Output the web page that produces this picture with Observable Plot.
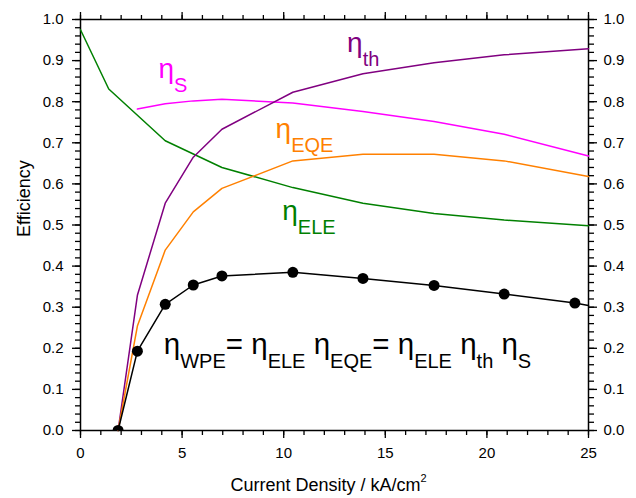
<!DOCTYPE html>
<html><head><meta charset="utf-8">
<script src="https://cdn.jsdelivr.net/npm/d3@7"></script>
<script src="https://cdn.jsdelivr.net/npm/@observablehq/plot@0.6"></script>
<style>
body{margin:0;background:#fff;}
svg{font-family:"Liberation Sans",Arial,sans-serif;}
</style></head><body><div id="chart"></div>
<script>
// Current density (kA/cm^2) at measured points
const measJ = [1.85, 2.8, 4.17, 5.55, 6.96, 10.45, 13.9, 17.4, 20.85, 24.33];
const wpe   = [0, 0.193, 0.307, 0.354, 0.376, 0.385, 0.370, 0.353, 0.332, 0.310];
// WPE line continues to the frame edge
const wpeLineJ = [1.85, 2.8, 4.17, 5.55, 6.96, 10.45, 13.9, 17.4, 20.85, 24.33, 25];
const wpeLine  = [0, 0.193, 0.307, 0.354, 0.376, 0.385, 0.370, 0.353, 0.332, 0.310, 0.304];

const thJ = [1.85, 2.8, 4.17, 5.55, 6.96, 10.45, 13.9, 17.4, 20.85, 25];
const th  = [0, 0.329, 0.553, 0.665, 0.733, 0.823, 0.868, 0.895, 0.914, 0.929];

const eqeJ = [1.85, 2.8, 4.17, 5.55, 6.96, 10.45, 13.9, 17.4, 20.85, 25];
const eqe  = [0, 0.254, 0.439, 0.532, 0.589, 0.656, 0.672, 0.672, 0.656, 0.618];

const sJ = [2.8, 4.17, 5.55, 6.96, 10.45, 13.9, 17.4, 20.85, 25];
const s  = [0.782, 0.795, 0.802, 0.806, 0.797, 0.776, 0.752, 0.721, 0.668];

const eleJ = [0, 1.39, 4.17, 6.96, 10.45, 13.9, 17.4, 20.85, 25];
const ele  = [0.975, 0.831, 0.705, 0.640, 0.591, 0.553, 0.528, 0.512, 0.498];

const xTicks = [0, 5, 10, 15, 20, 25];
const yTicks = [0, 0.1, 0.2, 0.3, 0.4, 0.5, 0.6, 0.7, 0.8, 0.9, 1.0];
const xMinor = d3.range(0, 26, 1);
const yMinor = d3.range(0, 51).map(i => i / 50);

const xTitle = [["Current Density / kA/cm", ""], ["2", "sup"]];
const yTitle = "Efficiency";

const labels = [
  {key: "L_S",   x: 3.84,  y: 0.857, color: "#ff00ff", parts: [["η", ""], ["S", "sub"]]},
  {key: "L_th",  x: 13.12, y: 0.921, color: "#800080", parts: [["η", ""], ["th", "sub"]]},
  {key: "L_EQE", x: 9.6,   y: 0.711, color: "#ff8000", parts: [["η", ""], ["EQE", "sub"]]},
  {key: "L_ELE", x: 9.93,  y: 0.513, color: "#008000", parts: [["η", ""], ["ELE", "sub"]]}
];
const formula = [
  {key: "L_F", x: 4.1, y: 0.185, parts: [
    ["η", ""], ["WPE", "sub"], ["= η", ""], ["ELE", "sub"], [" η", ""], ["EQE", "sub"],
    ["= η", ""], ["ELE", "sub"], [" η", ""], ["th", "sub"], [" η", ""], ["S", "sub"]]}
];

const rows = (J, V) => J.map((x, i) => ({x, y: V[i]}));

const plot = Plot.plot({
  width: 636, height: 498,
  marginLeft: 80, marginRight: 48, marginTop: 19, marginBottom: 68,
  style: {fontFamily: "'Liberation Sans', Arial, sans-serif", fontSize: "15px", background: "#fff", color: "#000"},
  x: {domain: [0, 25], label: null},
  y: {domain: [0, 1], label: null},
  marks: [
    Plot.axisX(xMinor, {anchor: "bottom", tickSize: 5, text: null, label: null, strokeWidth: 1.3}),
    Plot.axisX(xTicks, {anchor: "bottom", tickSize: 8, tickPadding: 9, label: null, strokeWidth: 1.3, fontSize: 15}),
    Plot.axisX(xMinor, {anchor: "top", tickSize: 5, text: null, label: null, strokeWidth: 1.3}),
    Plot.axisX(xTicks, {anchor: "top", tickSize: 8, text: null, label: null, strokeWidth: 1.3}),
    Plot.axisY(yMinor, {anchor: "left", tickSize: 5, text: null, label: null, strokeWidth: 1.3}),
    Plot.axisY(yTicks, {anchor: "left", tickSize: 8, tickPadding: 9, label: null, strokeWidth: 1.3, fontSize: 15, tickFormat: d3.format(".1f")}),
    Plot.axisY(yMinor, {anchor: "right", tickSize: 5, text: null, label: null, strokeWidth: 1.3}),
    Plot.axisY(yTicks, {anchor: "right", tickSize: 8, tickPadding: 7, label: null, strokeWidth: 1.3, fontSize: 15, tickFormat: d3.format(".1f")}),
    Plot.frame({stroke: "#000", strokeWidth: 1.5}),
    Plot.line(rows(eleJ, ele), {x: "x", y: "y", stroke: "#008000", strokeWidth: 1.5}),
    Plot.line(rows(sJ, s), {x: "x", y: "y", stroke: "#ff00ff", strokeWidth: 1.5}),
    Plot.line(rows(thJ, th), {x: "x", y: "y", stroke: "#800080", strokeWidth: 1.5}),
    Plot.line(rows(eqeJ, eqe), {x: "x", y: "y", stroke: "#ff8000", strokeWidth: 1.5}),
    Plot.line(rows(wpeLineJ, wpeLine), {x: "x", y: "y", stroke: "#000", strokeWidth: 1.5}),
    Plot.dot(rows(measJ, wpe), {x: "x", y: "y", r: 5.5, fill: "#000", clip: true}),
    Plot.text(labels, {x: "x", y: "y", text: "key", fill: "color", textAnchor: "start", lineAnchor: "bottom", fontSize: 28}),
    Plot.text(formula, {x: "x", y: "y", text: "key", fill: "#000", textAnchor: "start", lineAnchor: "bottom", fontSize: 29.5}),
    Plot.text(["XTITLE"], {frameAnchor: "bottom", text: d => d, dx: -6, dy: 60, lineAnchor: "bottom", fontSize: 18}),
    Plot.text([yTitle], {frameAnchor: "left", text: d => d, dx: -51, dy: 12, rotate: -90, lineAnchor: "bottom", fontSize: 18})
  ]
});

const rich = new Map([...labels, ...formula].map(l => [l.key, l.parts]));
rich.set("XTITLE", xTitle);
d3.select(plot).selectAll("text").each(function () {
  const parts = rich.get(this.textContent);
  if (!parts) return;
  const el = d3.select(this);
  el.text(null);
  let shift = 0;
  for (const [t, kind] of parts) {
    const ts = el.append("tspan").text(t);
    const target = kind === "sub" ? 14 : kind === "sup" ? -9 : 0;
    if (target !== shift) ts.attr("dy", target - shift);
    shift = target;
    if (kind === "sub") ts.attr("font-size", 20);
    if (kind === "sup") ts.attr("font-size", 11);
  }
});
document.getElementById("chart").appendChild(plot);
</script></body></html>
